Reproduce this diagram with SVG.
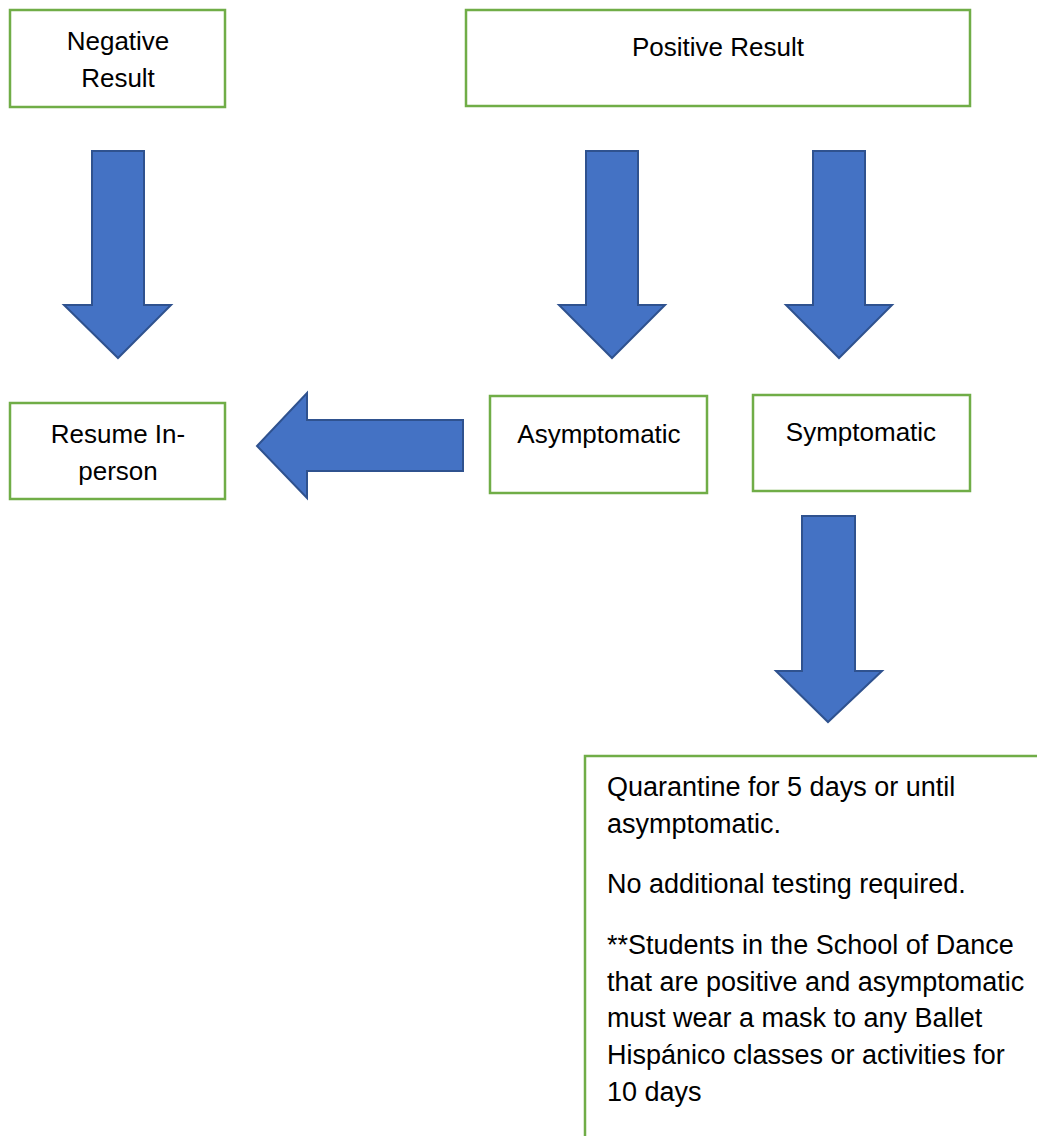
<svg xmlns="http://www.w3.org/2000/svg" width="1037" height="1136" viewBox="0 0 1037 1136">
<style>
.box{fill:#ffffff;stroke:#70AD47;stroke-width:2.5}
.arr{fill:#4472C4;stroke:#2F528F;stroke-width:2;stroke-linejoin:miter}
.t{font-family:"Liberation Sans",Arial,sans-serif;font-size:26px;fill:#000000;text-anchor:middle}
.b{font-family:"Liberation Sans",Arial,sans-serif;font-size:27px;fill:#000000}
</style>
<rect width="1037" height="1136" fill="#ffffff"/>
<g id="connectors">
<polygon class="arr" points="92,151 144,151 144,305 171,305 118,358 64,305 92,305"/>
<polygon class="arr" points="586,151 638,151 638,305 665,305 612,358 559,305 586,305"/>
<polygon class="arr" points="813,151 865,151 865,305 892,305 839,358 786,305 813,305"/>
<polygon class="arr" points="802,516 855,516 855,671 882,671 828,722 776,671 802,671"/>
<polygon class="arr" points="463,420 463,471 307,471 307,498 257,446 307,393 307,420"/>
</g>
<g id="negative">
<rect class="box" x="10" y="10" width="215" height="97"/>
<text class="t" x="118" y="50">Negative</text>
<text class="t" x="118" y="87">Result</text>
</g>
<g id="positive">
<rect class="box" x="466" y="10" width="504" height="96"/>
<text class="t" x="718" y="56">Positive Result</text>
</g>
<g id="resume">
<rect class="box" x="10" y="403" width="215" height="96"/>
<text class="t" x="118" y="443">Resume In-</text>
<text class="t" x="118" y="480">person</text>
</g>
<g id="asymptomatic">
<rect class="box" x="490" y="396" width="217" height="97"/>
<text class="t" x="599" y="443">Asymptomatic</text>
</g>
<g id="symptomatic">
<rect class="box" x="753" y="395" width="217" height="96"/>
<text class="t" x="861" y="441">Symptomatic</text>
</g>
<g id="quarantine">
<rect class="box" x="585" y="756" width="480" height="420"/>
<text class="b" x="607" y="796">Quarantine for 5 days or until</text>
<text class="b" x="607" y="833">asymptomatic.</text>
<text class="b" x="607" y="893">No additional testing required.</text>
<text class="b" x="607" y="954">**Students in the School of Dance</text>
<text class="b" x="607" y="991">that are positive and asymptomatic</text>
<text class="b" x="607" y="1027">must wear a mask to any Ballet</text>
<text class="b" x="607" y="1064">Hispánico classes or activities for</text>
<text class="b" x="607" y="1101">10 days</text>
</g>
</svg>
